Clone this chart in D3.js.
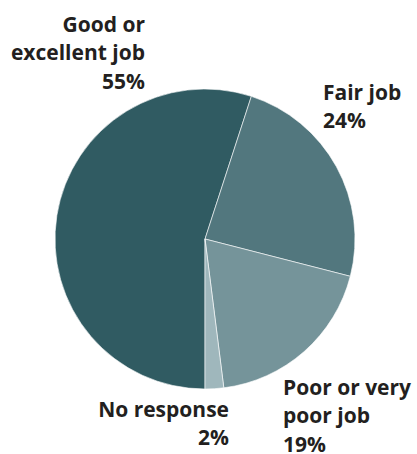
<body style="margin:0;background:#fff">
<div id="chart"></div>
</body>
<script src="https://d3js.org/d3.v7.min.js"></script>
<script>
  // slice data, clockwise from the bottom
  var categories = ["Good or excellent job", "Fair job", "Poor or very poor job", "No response"];
  var values = [55, 24, 19, 2];
  var colors = ["#305b62", "#52777e", "#75949a", "#9fb7bc"];
  // label lines for each slice
  var labelLines = [["Good or", "excellent job", "55%"], ["Fair job", "24%"], ["Poor or very", "poor job", "19%"], ["No response", "2%"]];

  var width = 417, height = 454;
  var cx = 205, cy = 239, r = 150;

  var svg = d3.select("#chart").append("svg")
    .attr("width", width)
    .attr("height", height);

  var data = categories.map(function(c, i) { return {name: c, value: values[i], color: colors[i], lines: labelLines[i]}; });

  var pie = d3.pie()
    .sort(null)
    .value(function(d) { return d.value; })
    .startAngle(Math.PI)
    .endAngle(3 * Math.PI);

  var arc = d3.arc().innerRadius(0).outerRadius(r);

  var g = svg.append("g").attr("transform", "translate(" + cx + "," + cy + ")");
  g.selectAll("path")
    .data(pie(data))
    .enter().append("path")
    .attr("d", arc)
    .attr("fill", function(d) { return d.data.color; })
    .attr("stroke", "#fff")
    .attr("stroke-width", 0.6);

  // label positions (x, first baseline, anchor)
  var labelPos = [[145, 32, "end"], [323, 100, "start"], [283, 395, "start"], [229, 417, "end"]];
  var lineH = 28.3;

  data.forEach(function(d, i) {
    var t = svg.append("text")
      .attr("x", labelPos[i][0])
      .attr("y", labelPos[i][1])
      .attr("text-anchor", labelPos[i][2])
      .attr("font-family", "'Open Sans', sans-serif")
      .attr("font-weight", "bold")
      .attr("font-size", "21px")
      .attr("fill", "#231f20");
    d.lines.forEach(function(l, j) {
      t.append("tspan")
        .attr("x", labelPos[i][0])
        .attr("y", labelPos[i][1] + j * lineH)
        .text(l);
    });
  });
</script>
